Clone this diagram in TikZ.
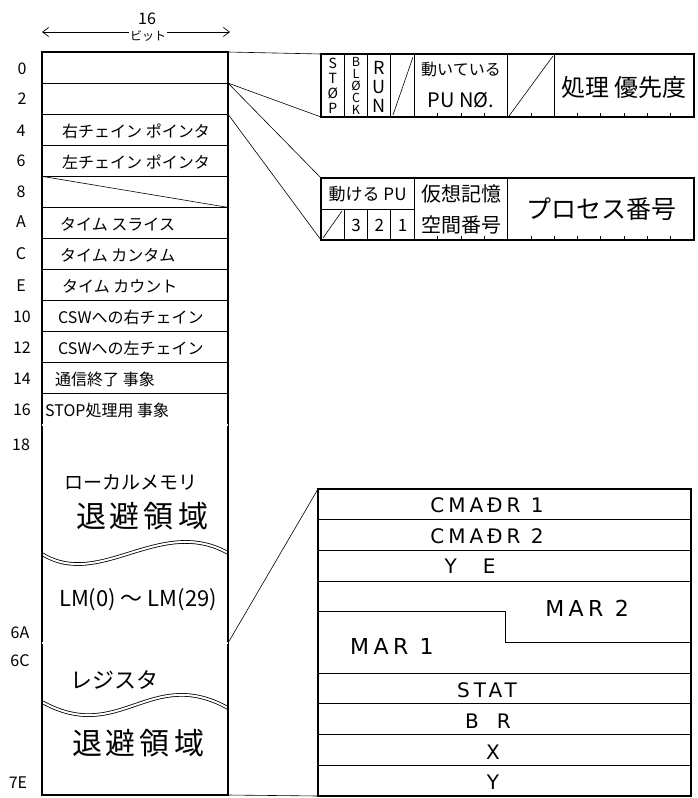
\documentclass[tikz,border=0pt]{standalone}
\usepackage{fontspec}
\setmainfont{Noto Sans CJK JP}
\newfontfamily\hand[LetterSpace=20]{DejaVu Sans}
\usetikzlibrary{arrows.meta}
\begin{document}
\begin{tikzpicture}[x=1pt,y=-1pt,
  cell/.style={draw, line width=1.1pt, rectangle, inner sep=0pt, outer sep=0pt, minimum width=186pt, anchor=north west},
  rbox/.style={draw, line width=1.1pt, rectangle, inner sep=0pt, outer sep=0pt, anchor=north west},
  conn/.style={line width=0.6pt},
  inner/.style={line width=0.9pt},
  tickmark/.style={line width=0.6pt},
  wave/.style={double, double distance=2pt, line width=0.8pt},
  dbl/.style={double, double distance=1.2pt, line width=0.6pt},
  rowtext/.style={anchor=west, inner sep=0pt, font=\fontsize{16}{18}\selectfont},
  addr/.style={inner sep=0pt, font=\fontsize{16}{18}\selectfont},
  fs/.style={inner sep=0pt, font=\fontsize{#1}{#1}\selectfont},
  hf/.style={inner sep=0pt, font=\hand\fontsize{#1}{#1}\selectfont}
]
\fill[white] (0,0) rectangle (697,798);
\useasboundingbox (0,0) rectangle (697,798);

% header
\node[fs=16] (sixteen) at (147,19) {16};
\coordinate (al) at (42,32);
\coordinate (ar) at (230,32);
\draw[line width=0.7pt, {Straight Barb[length=6pt,width=9pt]}-{Straight Barb[length=6pt,width=9pt]}] (al) -- (ar);
\node[fs=12, fill=white, inner sep=1pt] (bit) at (148,36) {ビット};

% waves (drawn first so the borders cover their ends)
\draw[wave] (42,554) .. controls (100,590) and (160,515) .. (228,553);
\draw[wave] (42,702) .. controls (120,745) and (150,665) .. (228,708);

% left column
\node[cell, minimum height=31.08pt] (w0) at (42,52) {};
\node[cell, minimum height=31.08pt] (w2) at (42,83.08) {};
\node[cell, minimum height=31.08pt] (w4) at (42,114.16) {};
\node[cell, minimum height=31.08pt] (w6) at (42,145.24) {};
\node[cell, minimum height=31.08pt] (w8) at (42,176.32) {};
\node[cell, minimum height=31.08pt] (wA) at (42,207.4) {};
\node[cell, minimum height=31.08pt] (wC) at (42,238.48) {};
\node[cell, minimum height=31.08pt] (wE) at (42,269.56) {};
\node[cell, minimum height=31.08pt] (w10) at (42,300.64) {};
\node[cell, minimum height=31.08pt] (w12) at (42,331.72) {};
\node[cell, minimum height=31.08pt] (w14) at (42,362.8) {};
\node[cell, minimum height=31.08pt] (w16) at (42,393.88) {};
\node[cell, minimum height=218.04pt] (w18) at (42,424.96) {};
\node[cell, minimum height=152pt] (w6C) at (42,643) {};
\draw[dbl] (w18.north west) -- (w18.north east);
\draw[dbl] (w6C.north west) -- (w6C.north east);
\draw[conn] (w8.north west) -- (w8.south east);

% addresses
\node[addr] (a0) at (22,69) {0};
\node[addr] (a2) at (22,99) {2};
\node[addr] (a4) at (21,131) {4};
\node[addr] (a6) at (21,161) {6};
\node[addr] (a8) at (21,192) {8};
\node[addr] (aA) at (21,222) {A};
\node[addr] (aC) at (21,254) {C};
\node[addr] (aE) at (21,286) {E};
\node[addr] (a10) at (22,317) {10};
\node[addr] (a12) at (22,348) {12};
\node[addr] (a14) at (22,379) {14};
\node[addr] (a16) at (22,410) {16};
\node[addr] (a18) at (21,445) {18};
\node[addr] (a6A) at (20,633) {6A};
\node[addr] (a6C) at (20,661) {6C};
\node[addr] (a7E) at (18,783) {7E};

% row texts
\node[rowtext] (t4) at (62,131) {右チェイン ポインタ};
\node[rowtext] (t6) at (62,162) {左チェイン ポインタ};
\node[rowtext] (tA) at (60,224) {タイム スライス};
\node[rowtext] (tC) at (60,255) {タイム カンタム};
\node[rowtext] (tE) at (62,286) {タイム カウント};
\node[rowtext] (t10) at (58,317) {CSWへの右チェイン};
\node[rowtext] (t12) at (58,348) {CSWへの左チェイン};
\node[rowtext] (t14) at (55,379) {通信終了 事象};
\node[rowtext] (t16) at (45,410) {STOP処理用 事象};
\node[fs=19] (t18a) at (131,482) {ローカルメモリ};
\node[fs=30] (t18b) at (142,516) {退\hspace{4pt}避\hspace{4pt}領\hspace{4pt}域};
\node[fs=22] (t18c) at (138,600) {LM(0) ～ LM(29)};
\node[fs=22] (t6Ca) at (114,680) {レジスタ};
\node[fs=30] (t6Cb) at (138,743) {退\hspace{4pt}避\hspace{4pt}領\hspace{4pt}域};

% expanded boxes
\node[rbox, minimum width=373pt, minimum height=63pt] (box1) at (321,54) {};
\node[rbox, minimum width=373pt, minimum height=62pt] (box2) at (321,178) {};
\node[rbox, minimum width=373pt, minimum height=307pt] (box3) at (318,489) {};

% connectors
\draw[conn] (w0.north east) -- (box1.north west);
\draw[conn] (w0.south east) -- (box1.south west);
\draw[conn] (w2.north east) -- (box2.north west);
\draw[conn] (w2.south east) -- (box2.south west);
\draw[conn] (w6C.north east) -- (box3.north west);
\draw[conn] (w6C.south east) -- (box3.south west);

% box1 internals
\foreach \k in {1,2,3,4,8,10} \draw[inner] ({321+23.3125*\k},54) -- ({321+23.3125*\k},117);
\foreach \k in {5,6,7,9,11,12,13,14,15} \draw[tickmark] ({321+23.3125*\k},117) -- ({321+23.3125*\k},113);
\draw[conn] (393,115) -- (413,57);
\draw[conn] (509,116) -- (553,56);
\node[align=center, inner sep=0pt, font=\fontsize{14}{15}\selectfont] (stop) at (332.7,86) {S\\T\\Ø\\P};
\node[align=center, inner sep=0pt, font=\fontsize{12.5}{12}\selectfont] (block) at (356,86) {B\\L\\Ø\\C\\K};
\node[align=center, inner sep=0pt, font=\fontsize{18}{19}\selectfont] (run) at (379.3,87) {R\\U\\N};
\node[fs=16] (pu1) at (461,70) {動いている};
\node[fs=20] (pu2) at (461,100) {PU NØ.};
\node[fs=24] (prio) at (624,87) {処理 優先度};

% box2 internals
\draw[inner] (321,209) -- (414.25,209);
\foreach \k in {1,2,3} \draw[inner] ({321+23.3125*\k},209) -- ({321+23.3125*\k},240);
\foreach \k in {4,8} \draw[inner] ({321+23.3125*\k},178) -- ({321+23.3125*\k},240);
\foreach \k in {5,6,7,9,10,11,12,13,14,15} \draw[tickmark] ({321+23.3125*\k},240) -- ({321+23.3125*\k},236);
\draw[conn] (323,238) -- (342,211);
\node[fs=17] (mpu) at (367.6,194) {動ける PU};
\node[fs=17] (c3) at (356,225) {3};
\node[fs=17] (c2) at (379.3,225) {2};
\node[fs=17] (c1) at (402.6,225) {1};
\node[fs=20] (vs1) at (461,194) {仮想記憶};
\node[fs=20] (vs2) at (461,225) {空間番号};
\node[fs=25] (proc) at (601,209) {プロセス番号};

% box3 internals
\foreach \yy in {519.7,550.4,581.1,673.2,703.9,734.6,765.3} \draw[inner] (318,\yy) -- (691,\yy);
\draw[inner] (318,611.8) -- (505,611.8) -- (505,642.5) -- (691,642.5);
\node[hf=20] (cm1) at (487,505) {CMAÐR 1};
\node[hf=20] (cm2) at (487,536) {CMAÐR 2};
\node[hf=20] (ye) at (470,566) {Y\hspace{26pt}E};
\node[hf=22] (mar2) at (587,608) {MAR 2};
\node[hf=22] (mar1) at (392,646) {MAR 1};
\node[hf=20] (stat) at (487,690) {STAT};
\node[hf=20] (br) at (488,721) {B\hspace{18pt}R};
\node[hf=20] (rx) at (493,752) {X};
\node[hf=20] (ry) at (493,782) {Y};
\end{tikzpicture}
\end{document}
